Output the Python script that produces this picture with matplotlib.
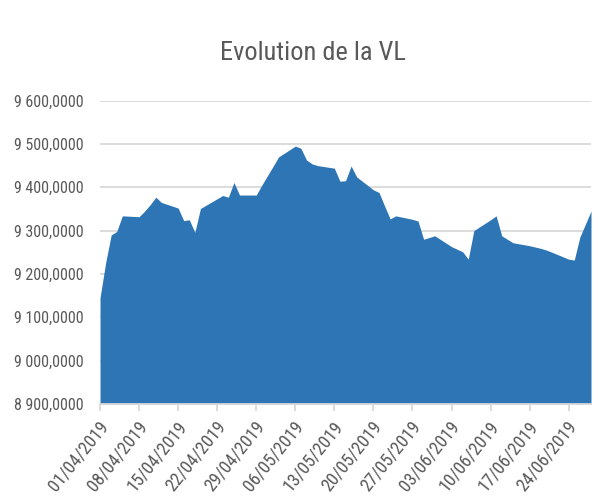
import datetime as dt
import matplotlib
matplotlib.use("Agg")
import matplotlib.pyplot as plt
import matplotlib.dates as mdates
import matplotlib.transforms as mtransforms
from matplotlib import font_manager
from matplotlib.ticker import FuncFormatter, MultipleLocator

# data (business days, 2019)
dates = ["01/04", "02/04", "03/04", "04/04", "05/04", "08/04", "09/04", "10/04",
         "11/04", "12/04", "15/04", "16/04", "17/04", "18/04", "19/04", "23/04",
         "24/04", "25/04", "26/04", "29/04", "30/04", "02/05", "03/05", "06/05",
         "07/05", "08/05", "09/05", "10/05", "13/05", "14/05", "15/05", "16/05",
         "17/05", "20/05", "21/05", "22/05", "23/05", "24/05", "27/05", "28/05",
         "29/05", "31/05", "03/06", "04/06", "05/06", "06/06", "07/06", "10/06",
         "11/06", "12/06", "13/06", "14/06", "17/06", "18/06", "19/06", "20/06",
         "21/06", "24/06", "25/06", "26/06", "27/06", "28/06"]
vl = [9145, 9225, 9290, 9298, 9334, 9332, 9345, 9360,
      9377, 9365, 9352, 9323, 9325, 9296, 9351, 9381,
      9377, 9411, 9382, 9382, 9405, 9448, 9470, 9495,
      9490, 9463, 9454, 9450, 9444, 9414, 9415, 9449,
      9424, 9394, 9388, 9357, 9327, 9334, 9326, 9322,
      9280, 9288, 9263, 9257, 9251, 9234, 9300, 9325,
      9334, 9288, 9280, 9272, 9265, 9262, 9259, 9255,
      9250, 9234, 9232, 9285, 9315, 9345]
title = "Evolution de la VL"

x = [dt.datetime.strptime(d + "/2019", "%d/%m/%Y") for d in dates]

available = {f.name for f in font_manager.fontManager.ttflist}
font = "DejaVu Sans"
for name in ["Liberation Sans Narrow", "Roboto Condensed", "Open Sans Condensed", "Liberation Sans"]:
    if name in available:
        font = name
        break
plt.rcParams["font.family"] = [font, "DejaVu Sans"]

grey_txt = "#595959"
grid_col = "#D9D9D9"
blue = "#2E75B6"

fig = plt.figure(figsize=(6.0, 5.03), dpi=100)
ax = fig.add_axes([0.1667, 0.197, 0.8183, 0.603])

ax.fill_between(x, vl, 8900, color=blue, linewidth=0)

ax.set_ylim(8900, 9600)
ax.set_xlim(dt.datetime(2019, 4, 1), dt.datetime(2019, 6, 28))
ax.yaxis.set_major_locator(MultipleLocator(100))
ax.yaxis.set_major_formatter(FuncFormatter(
    lambda v, p: f"{int(v) // 1000} {int(v) % 1000:03d},0000"))
ticks = [dt.datetime(2019, 4, 1) + dt.timedelta(days=7 * i) for i in range(13)]
ax.set_xticks(ticks)
ax.xaxis.set_major_formatter(mdates.DateFormatter("%d/%m/%Y"))

ax.grid(axis="y", color=grid_col, linewidth=1.3)
ax.set_axisbelow(True)
for s in ["top", "right", "left"]:
    ax.spines[s].set_visible(False)
ax.spines["bottom"].set_color(grid_col)
ax.spines["bottom"].set_linewidth(1.3)
ax.spines["bottom"].set_zorder(3)

ax.tick_params(axis="y", length=0, pad=12, labelsize=11.5, labelcolor=grey_txt)
ax.tick_params(axis="x", length=5, width=1.3, color=grid_col, pad=9,
               labelsize=13, labelcolor=grey_txt)

offset = mtransforms.ScaledTranslation(5 / 100, 0, fig.dpi_scale_trans)
for lab in ax.get_xticklabels():
    lab.set_rotation(51)
    lab.set_ha("right")
    lab.set_va("center")
    lab.set_rotation_mode("anchor")
    lab.set_transform(lab.get_transform() + offset)

fig.text(0.522, 0.895, title, ha="center", va="center", fontsize=19,
         color=grey_txt)

fig.savefig("out.png", dpi=100)
